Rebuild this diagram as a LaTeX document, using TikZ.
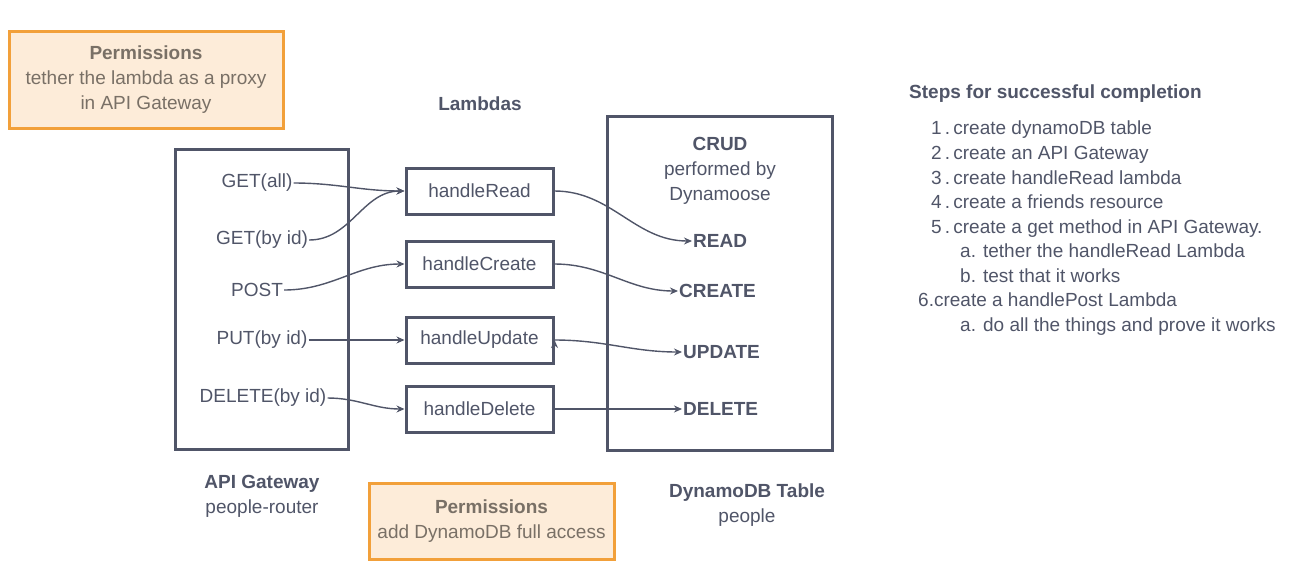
\documentclass[tikz,border=0pt]{standalone}
\usepackage{fontspec}
\setmainfont{Liberation Sans}
\usetikzlibrary{positioning, arrows.meta}
\definecolor{slate}{RGB}{80,85,104}
\definecolor{permline}{RGB}{242,160,58}
\definecolor{permfill}{RGB}{253,236,217}
\definecolor{permtext}{RGB}{121,112,102}

\begin{document}
\begin{tikzpicture}[x=1pt, y=-1pt, text=slate, font=\fontsize{19}{25}\selectfont]
                \tikzset{
                    panel/.style={draw=slate, line width=3pt, inner sep=0pt},
                    lambda/.style={panel, minimum width=147pt, minimum height=46pt},
                    perm/.style={draw=permline, fill=permfill, line width=3pt, text=permtext, align=center},
                    route/.style={inner sep=1pt},
                    op/.style={inner sep=1pt, anchor=west, font=\fontsize{19}{25}\selectfont\bfseries},
                    stepline/.style={inner sep=0pt, anchor=west, text height=14pt, text depth=4pt},
                    link/.style={draw=slate, line width=1.4pt, -{Stealth[length=8pt, width=7pt]}}
                }
                \useasboundingbox (0,0) rectangle (1316,574);

                % permission notes
                \node[perm, minimum width=274pt, minimum height=97pt] (proxy) at (146,80)
                    {\textbf{Permissions}\\tether the lambda as a proxy\\in API Gateway};
                \node[perm, minimum width=245pt, minimum height=76pt] (access) at (491.5,521)
                    {\textbf{Permissions}\\add DynamoDB full access};

                % API Gateway
                \node[panel, minimum width=173pt, minimum height=300pt] (gw) at (261.5,299) {};
                \node[align=center] (gwname) at (262,496) {\textbf{API Gateway}\\people-router};

                \node[route] (getall) at (257,183) {GET(all)};
                \node[route] (getid) at (262,240) {GET(by id)};
                \node[route] (post) at (257,290) {POST};
                \node[route] (put) at (262,340) {PUT(by id)};
                \node[route] (del) at (263,398) {DELETE(by id)};

                % lambdas
                \node[font=\fontsize{19}{25}\selectfont\bfseries] (lambdas) at (480,104) {Lambdas};
                \node[lambda] (read) at (479.5,191) {handleRead};
                \node[lambda] (create) at (479.5,264) {handleCreate};
                \node[lambda] (update) at (479.5,340) {handleUpdate};
                \node[lambda] (delete) at (479.5,409) {handleDelete};

                % DynamoDB table
                \node[panel, minimum width=225pt, minimum height=334pt] (db) at (719.5,283) {};
                \node[align=center] (crud) at (720,171) {\textbf{CRUD}\\performed by\\Dynamoose};
                \node[align=center] (dbname) at (747,505) {\textbf{DynamoDB Table}\\people};

                \node[op] (opread) at (692,241) {READ};
                \node[op] (opcreate) at (678,291) {CREATE};
                \node[op] (opupdate) at (682,352) {UPDATE};
                \node[op] (opdelete) at (682,409) {DELETE};

                \path[link]
                    (getall) edge[out=0, in=180] (read.west)
                    (getid) edge[out=0, in=180] (read.west)
                    (post) edge[out=0, in=180] (create.west)
                    (put) edge (update)
                    (del) edge[out=0, in=180] (delete.west)
                    (read.east) edge[out=0, in=180] (opread)
                    (create.east) edge[out=0, in=180] (opcreate)
                    (update.east) edge[out=0, in=180] (opupdate)
                    (delete) edge (opdelete);

                % steps
                \node[stepline, font=\fontsize{19}{25}\selectfont\bfseries] (steps) at (909,93) {Steps for successful completion};
                \foreach \dx/\y/\txt [count=\i] in {
                    22/129/{1\,.\,create dynamoDB table},
                    22/154/{2\,.\,create an API Gateway},
                    22/179/{3\,.\,create handleRead lambda},
                    22/203/{4\,.\,create a friends resource},
                    22/228/{5\,.\,create a get method in API Gateway.},
                    51/252/{a. tether the handleRead Lambda},
                    51/277/{b. test that it works},
                    9/301/{6.create a handlePost Lambda},
                    51/326/{a. do all the things and prove it works}}
                    \node[stepline] (step\i) at (909+\dx,\y) {\txt};

            \end{tikzpicture}
\end{document}
